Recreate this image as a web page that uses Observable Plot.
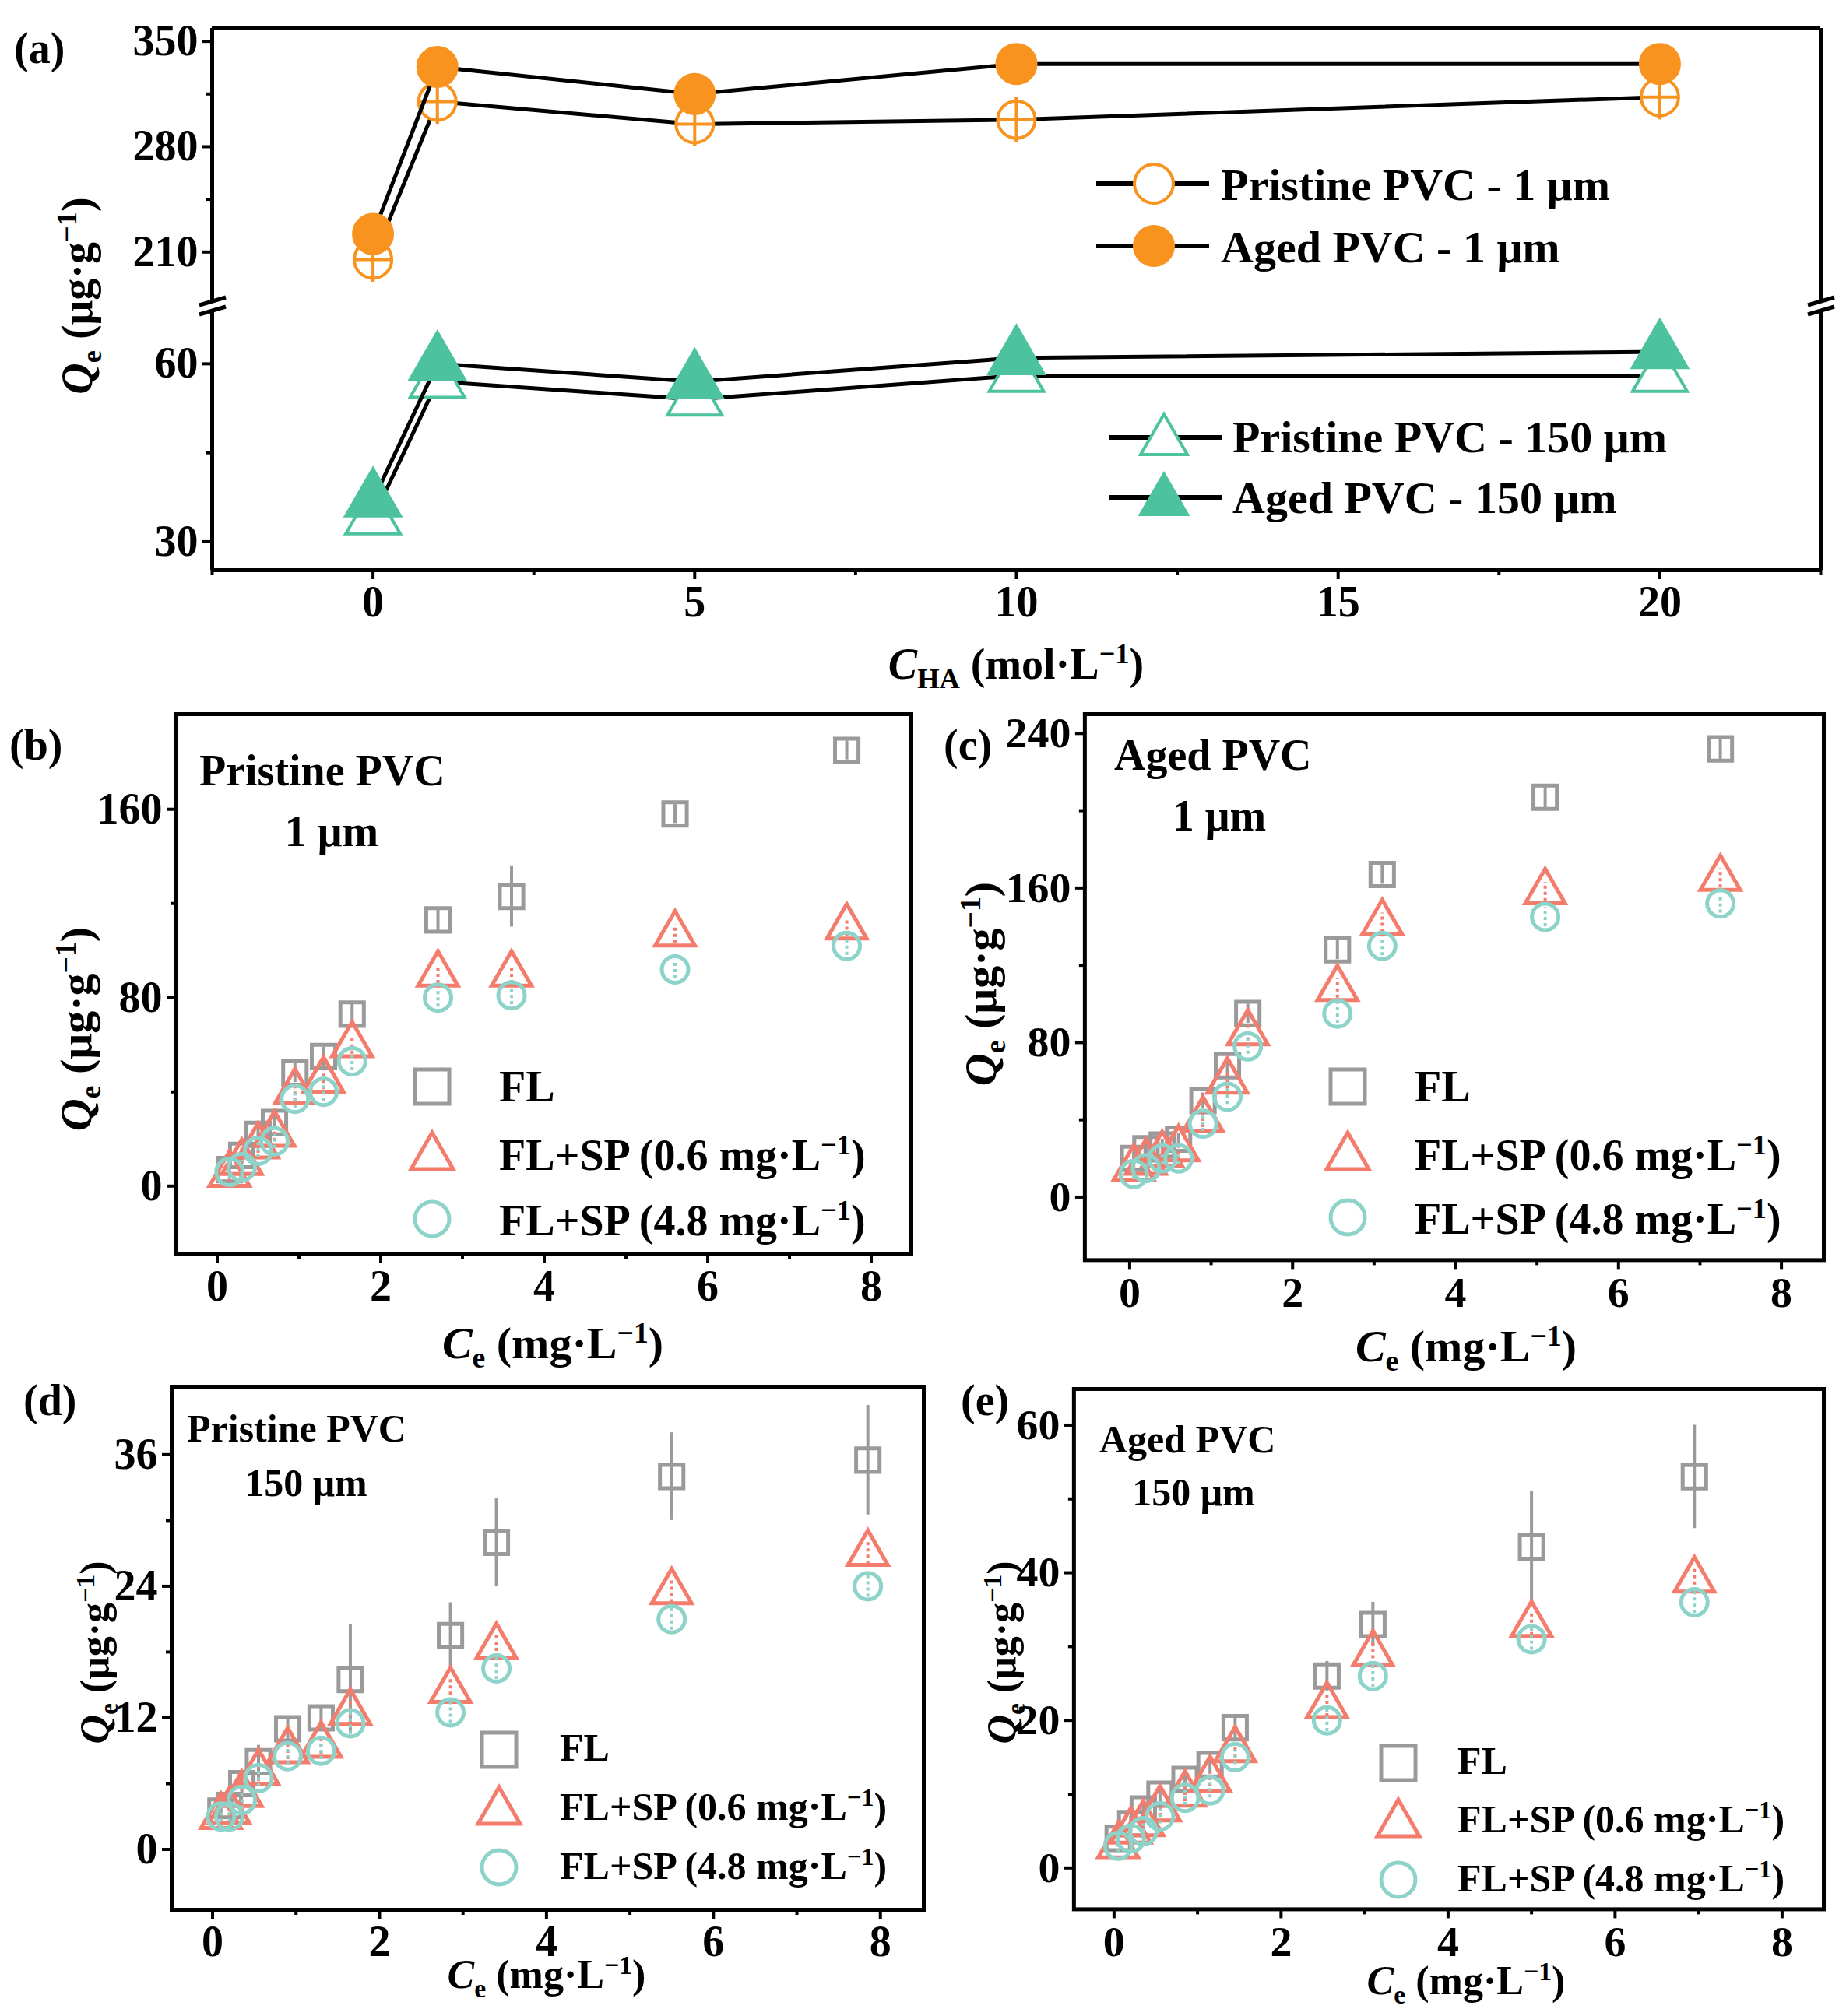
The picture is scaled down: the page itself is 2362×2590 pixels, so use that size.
<!DOCTYPE html>
<html><head><meta charset="utf-8">
<script src="https://cdn.jsdelivr.net/npm/d3@7"></script>
<script src="https://cdn.jsdelivr.net/npm/@observablehq/plot@0.6"></script>
<style>
body{margin:0;background:#fff;width:2362px;height:2590px;position:relative;font-family:"Liberation Serif",serif;font-weight:bold;color:#000}
.a{position:absolute;white-space:nowrap}
svg text{font-family:"Liberation Serif",serif;font-weight:bold}
</style></head><body>
<script>
// ---------- data ----------
const haX = [0,1,5,10,20];
const pr1 = [205,310,295,298,313], pr1Err=[6,6,6,6,6];
const ag1 = [222,333,315,335,335], ag1Err=[5,5,5,5,5];
const pr150 = [34,57,54,58,58], pr150Err=[1.5,1.5,1.5,1.5,1.5];
const ag150 = [37,60,57,61,62], ag150Err=[1.5,1.5,1.5,1.5,1.5];

const bX = [0.15,0.3,0.5,0.7,0.95,1.3,1.65,2.7,3.6,5.6,7.7];
const bFL=[7,13,22,27,48,55,73,113,123,158,185], bFLe=[3,3,3,3,4,4,5,5,13,4,4];
const bS1=[5,10,17,22,40,45,60,90,90,107,110], bS1e=[3,3,3,3,4,4,4,4,4,4,4];
const bS2=[6,8,15,19,37,40,53,80,81,92,102], bS2e=[3,3,3,3,4,4,4,4,4,4,4];

const cX=[0.05,0.2,0.4,0.6,0.9,1.2,1.45,2.55,3.1,5.1,7.25];
const cFL=[20,25,27,30,50,68,95,128,167,207,232], cFLe=[3,3,3,3,4,4,5,5,5,6,6];
const cS1=[15,18,22,25,40,60,85,108,142,158,165], cS1e=[3,3,3,3,4,4,4,5,5,5,5];
const cS2=[12,15,20,20,38,52,78,95,130,145,152], cS2e=[3,3,3,3,4,4,4,5,5,5,5];

const dX=[0.1,0.2,0.35,0.55,0.9,1.3,1.65,2.85,3.4,5.5,7.85];
const dFL=[3.5,4,6,8,11,12,15.5,19.5,28,34,35.5], dFLe=[0.5,0.5,1,1.5,1,1,5,3,4,4,5];
const dS1=[3,3.5,5,7,9,9.5,12.5,14.5,18.5,23.5,27], dS1e=[0.5,0.5,0.8,0.8,0.8,0.8,1,1,1,1,1];
const dS2=[3,3,4.5,6.5,8.5,9,11.5,12.5,16.5,21,24], dS2e=[0.5,0.5,0.8,0.8,0.8,0.8,1,1,1,1,1];

const eX=[0.05,0.2,0.35,0.55,0.85,1.15,1.45,2.55,3.1,5,6.95];
const eFL=[4,6,8,10,12,14,19,26,33,43.5,53], eFLe=[1,1,1,1,1,1,1.5,2,3,7.5,7];
const eS1=[3,5,6,8,10,12,16,22,29,33,39], eS1e=[1,1,1,1,1,1,1,1.5,1.5,1.5,1.5];
const eS2=[3,4,5,7,9.5,10.5,15,20,26,31,36], eS2e=[1,1,1,1,1,1,1,1.5,1.5,1.5,1.5];

const GRAY="#9a9a9a", SAL="#f47c6c", TEAL="#8dd3c9", ORG="#f7931e", GRN="#4cc29f";
const FS=56;

function rows(x,y,e){return x.map((v,i)=>({x:v,y:y[i],e:e[i]}));}
function add(el){document.body.appendChild(el);return el;}
function txt(html,left,top,size,extra=""){const d=document.createElement("div");d.className="a";d.style.cssText=`left:${left}px;top:${top}px;font-size:${size}px;${extra}`;d.innerHTML=html;add(d);return d;}

function panel(o){
  const ml=150, mr=20, mt=10, mb=o.mb??80;
  const fw=o.R-o.L, fh=o.B-o.T;
  const marks=[];
  if(o.frame!==false) marks.push(Plot.frame({stroke:"#000",strokeWidth:5}));
  else {
    marks.push(Plot.ruleX(o.xd,{stroke:"#000",strokeWidth:5}));
    if(o.topLine) marks.push(Plot.ruleY([o.yd[1]],{stroke:"#000",strokeWidth:5}));
    if(o.botLine) marks.push(Plot.ruleY([o.yd[0]],{stroke:"#000",strokeWidth:5}));
  }
  marks.push(Plot.axisY({ticks:o.yt,tickSize:12,strokeWidth:4,tickPadding:6,fontSize:FS,label:null}));
  if(o.ym) marks.push(Plot.axisY({ticks:o.ym,tickSize:7,strokeWidth:4,tickFormat:()=>"",label:null}));
  if(o.xt){
    marks.push(Plot.axisX({ticks:o.xt,tickSize:12,strokeWidth:4,tickPadding:8,fontSize:FS,label:null}));
    if(o.xm) marks.push(Plot.axisX({ticks:o.xm,tickSize:7,strokeWidth:4,tickFormat:()=>"",label:null}));
  }
  marks.push(...o.marks);
  const p=Plot.plot({width:fw+ml+mr,height:fh+mt+mb,marginLeft:ml,marginRight:mr,marginTop:mt,marginBottom:mb,
    style:{fontFamily:"Liberation Serif",fontWeight:"bold",fontSize:FS+"px",overflow:"visible",background:"transparent"},
    x:{type:"linear",domain:o.xd,axis:null},y:{type:"linear",domain:o.yd,axis:null},marks});
  const d=document.createElement("div");d.className="a";d.style.left=(o.L-ml)+"px";d.style.top=(o.T-mt)+"px";
  d.appendChild(p);add(d);
}

// ---------- panel (a) ----------
const P1=rows(haX,pr1,pr1Err), A1=rows(haX,ag1,ag1Err), P150=rows(haX,pr150,pr150Err), A150=rows(haX,ag150,ag150Err);
function aSeries(data,color,filled){
  return [
    Plot.line(data,{x:"x",y:"y",stroke:"#000",strokeWidth:5}),
    Plot.ruleX(data,{x:"x",y1:d=>d.y-d.e*2.5,y2:d=>d.y+d.e*2.5,stroke:color,strokeWidth:4}),
    Plot.dot(data,{x:"x",y:"y",r:filled?25:24,stroke:color,strokeWidth:4,fill:filled?color:"white"}),
    ...(filled?[]:[Plot.ruleX(data,{x:"x",y1:d=>d.y-d.e*2.5,y2:d=>d.y+d.e*2.5,stroke:color,strokeWidth:4}),
      Plot.ruleY(data,{y:"y",x1:d=>d.x-0.3,x2:d=>d.x+0.3,stroke:color,strokeWidth:4})])
  ];
}
function aTri(data,color,filled){
  return [
    Plot.line(data,{x:"x",y:"y",stroke:"#000",strokeWidth:5}),
    Plot.dot(data,{x:"x",y:"y",symbol:"triangle",r:26,stroke:color,strokeWidth:4,fill:filled?color:"white"})
  ];
}
panel({L:272,R:2338,T:36,B:390,xd:[-2.5,22.5],yd:[175.5,358.6],yt:[210,280,350],ym:[245,315],frame:false,topLine:true,mb:10,
  marks:[...aSeries(P1,ORG,false),...aSeries(A1,ORG,true)]});
panel({L:272,R:2338,T:396,B:732,xd:[-2.5,22.5],yd:[25.2,69.3],yt:[30,60],ym:[45],frame:false,botLine:true,
  xt:[0,5,10,15,20],xm:[-2.5,2.5,7.5,12.5,17.5,22.5],
  marks:[...aTri(P150,GRN,false),...aTri(A150,GRN,true)]});
add(Object.assign(document.createElement("div"),{className:"a",innerHTML:
 `<svg width="2362" height="60" style="position:absolute;left:0;top:362px;overflow:visible">
  <rect x="262" y="24" width="22" height="12" fill="#fff"/><rect x="2328" y="24" width="22" height="12" fill="#fff"/>
  <line x1="256" y1="30" x2="290" y2="20" stroke="#000" stroke-width="5"/><line x1="256" y1="42" x2="290" y2="32" stroke="#000" stroke-width="5"/>
  <line x1="2322" y1="30" x2="2356" y2="20" stroke="#000" stroke-width="5"/><line x1="2322" y1="42" x2="2356" y2="32" stroke="#000" stroke-width="5"/>
 </svg>`}));

function legRow(x1,x2,cy,marker){
  return `<line x1="${x1}" y1="${cy}" x2="${x2}" y2="${cy}" stroke="#000" stroke-width="6"/>${marker}`;
}
const circ=(cx,cy,c,f)=>`<circle cx="${cx}" cy="${cy}" r="25" fill="${f?c:'#fff'}" stroke="${c}" stroke-width="4"/>`;
const tri=(cx,cy,c,f)=>`<path d="M${cx},${cy-30} L${cx+30},${cy+22} L${cx-30},${cy+22} Z" fill="${f?c:'#fff'}" stroke="${c}" stroke-width="4"/>`;
add(Object.assign(document.createElement("div"),{className:"a",innerHTML:
 `<svg width="2362" height="800" style="position:absolute;left:0;top:0">
 ${legRow(1408,1553,236,circ(1482,236,ORG,false))}
 ${legRow(1408,1553,316,circ(1482,316,ORG,true))}
 ${legRow(1424,1569,562,tri(1495,562,GRN,false))}
 ${legRow(1424,1569,639,tri(1495,639,GRN,true))}
 </svg>`}));
txt("Pristine PVC - 1 μm",1568,204,58);
txt("Aged PVC - 1 μm",1568,284,58);
txt("Pristine PVC - 150 μm",1583,528,58);
txt("Aged PVC - 150 μm",1583,606,58);
txt("(a)",18,30,56);
txt(`<i>Q</i><sub style="font-size:0.65em">e</sub> (μg·g<sup style="font-size:0.65em">−1</sup>)`,102,380,56,"transform:translate(-50%,-50%) rotate(-90deg)");
txt(`<i>C</i><sub style="font-size:0.65em">HA</sub> (mol·L<sup style="font-size:0.65em">−1</sup>)`,1305,856,56,"transform:translate(-50%,-50%)");

// ---------- scatter panels ----------
function scatter(o){
  const FLd=rows(o.x,o.fl,o.fle), S1=rows(o.x,o.s1,o.s1e), S2=rows(o.x,o.s2,o.s2e);
  const sq=(d)=>[Plot.ruleX(d,{x:"x",y1:v=>v.y-v.e,y2:v=>v.y+v.e,stroke:GRAY,strokeWidth:4}),
    Plot.dot(d,{x:"x",y:"y",symbol:"square",r:17,stroke:GRAY,strokeWidth:5,fill:"none"})];
  const tr=(d)=>[Plot.ruleX(d,{x:"x",y1:v=>v.y-v.e,y2:v=>v.y+v.e,stroke:SAL,strokeWidth:4,strokeDasharray:"4,4"}),
    Plot.dot(d,{x:"x",y:"y",symbol:"triangle",r:19,stroke:SAL,strokeWidth:5,fill:"none"})];
  const ci=(d)=>[Plot.ruleX(d,{x:"x",y1:v=>v.y-v.e,y2:v=>v.y+v.e,stroke:TEAL,strokeWidth:4,strokeDasharray:"4,4"}),
    Plot.dot(d,{x:"x",y:"y",symbol:"circle",r:17,stroke:TEAL,strokeWidth:5,fill:"none"})];
  panel({L:o.L,R:o.R,T:o.T,B:o.B,xd:o.xd,yd:o.yd,yt:o.yt,ym:o.ym,xt:[0,2,4,6,8],xm:[1,3,5,7],
    marks:[...sq(FLd),...tr(S1),...ci(S2)]});
  const lg=o.leg;
  add(Object.assign(document.createElement("div"),{className:"a",innerHTML:
   `<svg width="2362" height="2590" style="position:absolute;left:0;top:0;pointer-events:none">
    <rect x="${lg.mx-22}" y="${lg.ys[0]-22}" width="44" height="44" fill="none" stroke="${GRAY}" stroke-width="5"/>
    <path d="M${lg.mx},${lg.ys[1]-27} L${lg.mx+27},${lg.ys[1]+20} L${lg.mx-27},${lg.ys[1]+20} Z" fill="none" stroke="${SAL}" stroke-width="5"/>
    <circle cx="${lg.mx}" cy="${lg.ys[2]}" r="22" fill="none" stroke="${TEAL}" stroke-width="5"/>
   </svg>`}));
  const sup=`<sup style="font-size:0.65em">−1</sup>`;
  txt("FL",lg.tx,lg.ys[0]-32,lg.fs);
  txt(`FL+SP (0.6 mg·L${sup})`,lg.tx,lg.ys[1]-32,lg.fs);
  txt(`FL+SP (4.8 mg·L${sup})`,lg.tx,lg.ys[2]-32,lg.fs);
  txt(o.tag,o.tagPos[0],o.tagPos[1],56);
  txt(o.t1,o.t1Pos[0],o.t1Pos[1],o.tfs);
  txt(o.size+" μm",o.t2Pos[0],o.t2Pos[1],o.tfs,"transform:translateX(-50%)");
  txt(`<i>Q</i><sub style="font-size:0.65em">e</sub> (μg·g${sup})`,o.yl[0],o.yl[1],o.lfs,"transform:translate(-50%,-50%) rotate(-90deg)");
  txt(`<i>C</i><sub style="font-size:0.65em">e</sub> (mg·L${sup})`,o.xl[0],o.xl[1],o.lfs,"transform:translate(-50%,-50%)");
}
scatter({L:226,R:1170,T:917,B:1611,xd:[-0.5,8.49],yd:[-29,200.4],yt:[0,80,160],ym:[40,120],
  x:bX,fl:bFL,fle:bFLe,s1:bS1,s1e:bS1e,s2:bS2,s2e:bS2e,
  leg:{mx:555,ys:[1396,1482,1566],tx:641,fs:56},tag:"(b)",tagPos:[12,925],
  t1:"Pristine PVC",t1Pos:[256,958],size:"1",t2Pos:[426,1036],tfs:56,yl:[100,1322],xl:[710,1728],lfs:58});
scatter({L:1393,R:2343,T:917,B:1619,xd:[-0.55,8.52],yd:[-32.6,250],yt:[0,80,160,240],ym:[40,120,200],
  x:cX,fl:cFL,fle:cFLe,s1:cS1,s1e:cS1e,s2:cS2,s2e:cS2e,
  leg:{mx:1731,ys:[1396,1482,1564],tx:1817,fs:56},tag:"(c)",tagPos:[1212,925],
  t1:"Aged PVC",t1Pos:[1431,938],size:"1",t2Pos:[1566,1016],tfs:56,yl:[1262,1264],xl:[1883,1732],lfs:58});
scatter({L:220,R:1186,T:1781,B:2453,xd:[-0.49,8.52],yd:[-5.5,42.2],yt:[0,12,24,36],ym:[6,18,30],
  x:dX,fl:dFL,fle:dFLe,s1:dS1,s1e:dS1e,s2:dS2,s2e:dS2e,
  leg:{mx:641,ys:[2248,2323,2399],tx:719,fs:50},tag:"(d)",tagPos:[30,1767],
  t1:"Pristine PVC",t1Pos:[240,1806],size:"150",t2Pos:[393,1876],tfs:50,yl:[125,2123],xl:[702,2540],lfs:52});
scatter({L:1379,R:2343,T:1784,B:2453,xd:[-0.48,8.5],yd:[-5.6,64.9],yt:[0,20,40,60],ym:[10,30,50],
  x:eX,fl:eFL,fle:eFLe,s1:eS1,s1e:eS1e,s2:eS2,s2e:eS2e,
  leg:{mx:1796,ys:[2265,2339,2415],tx:1872,fs:50},tag:"(e)",tagPos:[1234,1767],
  t1:"Aged PVC",t1Pos:[1412,1820],size:"150",t2Pos:[1533,1888],tfs:50,yl:[1290,2123],xl:[1883,2548],lfs:52});
</script>
</body></html>
